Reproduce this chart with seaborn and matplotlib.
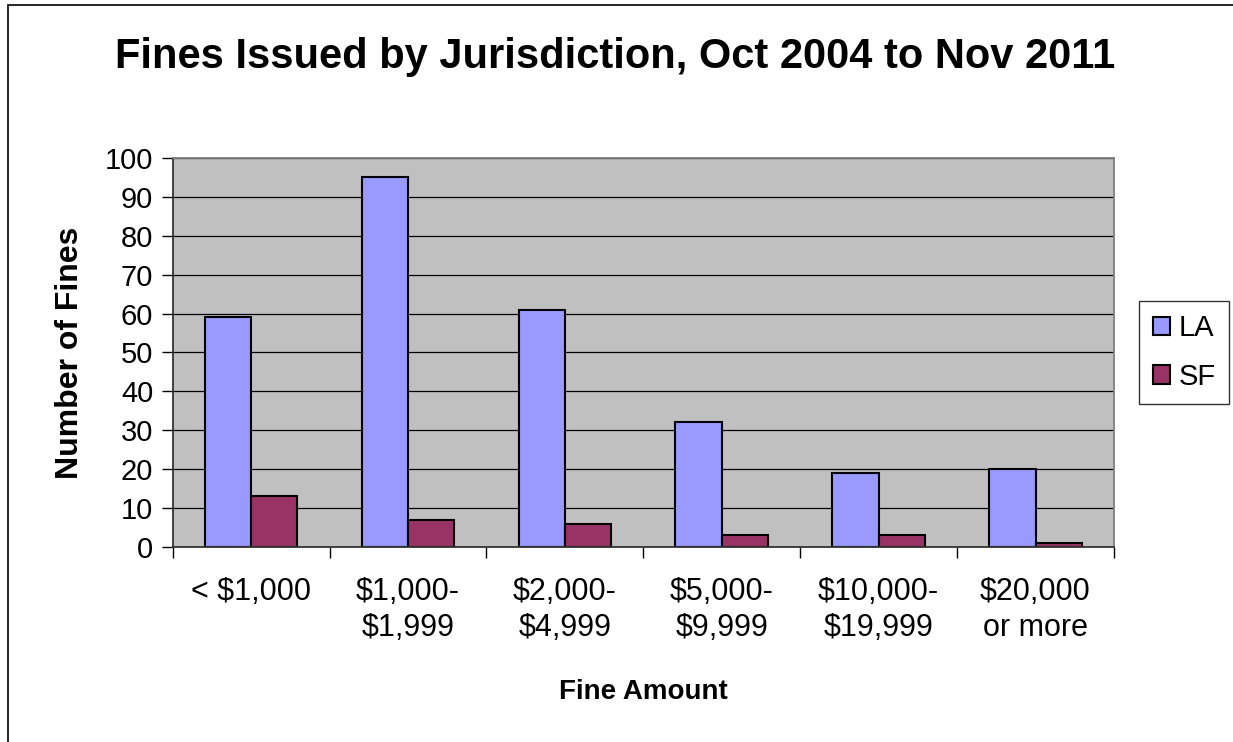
import pandas as pd
import numpy as np
import matplotlib.pyplot as plt
import seaborn as sns
from matplotlib.patches import Rectangle

# Data
categories = ["< \\$1,000", "\\$1,000-\n\\$1,999", "\\$2,000-\n\\$4,999",
              "\\$5,000-\n\\$9,999", "\\$10,000-\n\\$19,999", "\\$20,000\nor more"]
la_fines = [59, 95, 61, 32, 19, 20]
sf_fines = [13, 7, 6, 3, 3, 1]
yticks = list(range(0, 101, 10))

df = pd.DataFrame({
    "Fine Amount": categories * 2,
    "Number of Fines": la_fines + sf_fines,
    "Jurisdiction": ["LA"] * len(categories) + ["SF"] * len(categories),
})

sns.set_theme(style="white")
plt.rcParams['font.family'] = ['Liberation Sans', 'DejaVu Sans']
plt.rcParams['text.color'] = 'black'
plt.rcParams['axes.labelcolor'] = 'black'
plt.rcParams['xtick.color'] = 'black'
plt.rcParams['ytick.color'] = 'black'

fig = plt.figure(figsize=(12.33, 7.42), dpi=100)
ax = fig.add_axes([0.140, 0.263, 0.7635, 0.524])

# outer chart frame
fig.patches.append(Rectangle((8 / 1233, -0.05), 1.2, 1 - 5 / 742 + 0.05,
                             transform=fig.transFigure, fill=False,
                             edgecolor="black", linewidth=1.2))

sns.barplot(data=df, x="Fine Amount", y="Number of Fines", hue="Jurisdiction",
            palette={"LA": "#9999FF", "SF": "#993366"}, width=0.59,
            edgecolor="black", linewidth=1.5, ax=ax, saturation=1)

ax.set_facecolor("#C0C0C0")
ax.set_ylim(0, 100)
ax.set_xlim(-0.5, len(categories) - 0.5)
ax.set_yticks(yticks)
ax.yaxis.grid(True, color="black", linewidth=0.9)
ax.set_axisbelow(True)

ax.tick_params(axis="y", labelsize=21, length=8, width=1, pad=6, direction="out", left=True)
ax.tick_params(axis="x", which="major", labelsize=22, length=0, pad=22)
ax.set_xticks(np.arange(-0.5, len(categories), 1), minor=True)
ax.tick_params(axis="x", which="minor", length=8, width=1, bottom=True)
for lbl in ax.get_xticklabels():
    lbl.set_linespacing(1.25)

for side in ["left", "bottom"]:
    ax.spines[side].set_color("#333333")
    ax.spines[side].set_linewidth(1.3)
for side in ["top", "right"]:
    ax.spines[side].set_color("#808080")
    ax.spines[side].set_linewidth(1.3)

ax.set_xlabel("Fine Amount", fontsize=20, fontweight="bold", labelpad=26)
ax.set_ylabel("Number of Fines", fontsize=23, fontweight="bold", labelpad=14)
fig.text(0.499, 0.923, "Fines Issued by Jurisdiction, Oct 2004 to Nov 2011",
         ha="center", va="center", fontsize=30, fontweight="bold")

leg = ax.legend(loc="center left", bbox_to_anchor=(1.027, 0.5), fontsize=21,
                frameon=True, fancybox=False, edgecolor="black",
                handlelength=0.6, handleheight=0.6, handletextpad=0.3,
                borderpad=0.45, labelspacing=0.7, borderaxespad=0)
leg.get_frame().set_linewidth(1.0)

fig.savefig("out.png", dpi=100)
